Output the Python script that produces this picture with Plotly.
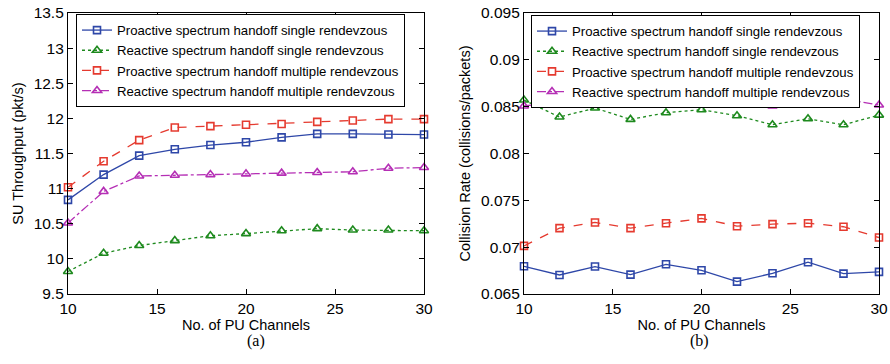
import plotly.graph_objects as go

channels = [10, 12, 14, 16, 18, 20, 22, 24, 26, 28, 30]
series_names = [
    "Proactive spectrum handoff single rendevzous",
    "Reactive spectrum handoff single rendevzous",
    "Proactive spectrum handoff multiple rendevzous",
    "Reactive spectrum handoff multiple rendevzous",
]

# (a) SU throughput (pkt/s)
thr_pro_single = [10.84, 11.20, 11.47, 11.56, 11.62, 11.66, 11.73, 11.78, 11.78, 11.77, 11.77]
thr_re_single = [9.82, 10.08, 10.19, 10.26, 10.33, 10.36, 10.40, 10.43, 10.41, 10.41, 10.40]
thr_pro_multi = [11.02, 11.39, 11.69, 11.87, 11.89, 11.91, 11.92, 11.95, 11.97, 11.99, 11.99]
thr_re_multi = [10.51, 10.96, 11.18, 11.19, 11.20, 11.21, 11.22, 11.23, 11.24, 11.29, 11.30]

# (b) Collision rate (collisions/packets)
col_pro_single = [0.06796, 0.06703, 0.06793, 0.06707, 0.06817, 0.06753, 0.06632, 0.06721, 0.06839, 0.06718, 0.06736]
col_re_single = [0.08571, 0.08389, 0.08485, 0.08364, 0.08435, 0.08467, 0.08403, 0.08307, 0.08371, 0.08307, 0.08410]
col_pro_multi = [0.07014, 0.07203, 0.07264, 0.07203, 0.07256, 0.07307, 0.07224, 0.07246, 0.07256, 0.07218, 0.07103]
col_re_multi = [0.08507, 0.08553, 0.08578, 0.08585, 0.08560, 0.08593, 0.08536, 0.08507, 0.08603, 0.08582, 0.08518]

y1_ticks = [9.5, 10, 10.5, 11, 11.5, 12, 12.5, 13, 13.5]
y1_ticklabels = ["9.5", "10", "10.5", "11", "11.5", "12", "12.5", "13", "13.5"]
y2_ticks = [0.065, 0.07, 0.075, 0.08, 0.085, 0.09, 0.095]
y2_ticklabels = ["0.065", "0.07", "0.075", "0.08", "0.085", "0.09", "0.095"]
x_ticks = [10, 15, 20, 25, 30]

colors = ["#2e47a8", "#1e8a1e", "#e53a2f", "#b52fb5"]
dashes = ["solid", "dot", "dash", "dashdot"]
symbols = ["square-open", "triangle-up-open", "square-open", "triangle-up-open"]
msizes = [7, 8, 7, 8]

FONT = "Liberation Sans, Arial, Helvetica, sans-serif"

fig = go.Figure()

left = [thr_pro_single, thr_re_single, thr_pro_multi, thr_re_multi]
right = [col_pro_single, col_re_single, col_pro_multi, col_re_multi]

for i in range(4):
    fig.add_trace(go.Scatter(
        x=channels, y=left[i], name=series_names[i], mode="lines+markers",
        line=dict(color=colors[i], width=1.3, dash=dashes[i]),
        marker=dict(symbol=symbols[i], size=msizes[i], color=colors[i], line=dict(width=1.6, color=colors[i])),
        cliponaxis=False, xaxis="x", yaxis="y", legend="legend",
    ))
for i in range(4):
    fig.add_trace(go.Scatter(
        x=channels, y=right[i], name=series_names[i], mode="lines+markers",
        line=dict(color=colors[i], width=1.3, dash=dashes[i]),
        marker=dict(symbol=symbols[i], size=msizes[i], color=colors[i], line=dict(width=1.6, color=colors[i])),
        cliponaxis=False, xaxis="x2", yaxis="y2", legend="legend2",
    ))

W, H = 890, 364
def px_x(p):
    return p / W
def px_y(p):
    return 1 - p / H

ydom = [px_y(294), px_y(13)]

axis_common = dict(
    showline=True, linecolor="black", linewidth=1.2, mirror="ticks",
    ticks="inside", ticklen=5, tickcolor="black", tickwidth=1,
    showgrid=False, zeroline=False, automargin=False,
    tickfont=dict(family=FONT, size=15.5, color="black"),
)

fig.update_layout(
    width=W, height=H,
    margin=dict(l=0, r=0, t=0, b=0),
    paper_bgcolor="white", plot_bgcolor="white",
    font=dict(family=FONT, color="black"),
    xaxis=dict(domain=[px_x(68), px_x(424)], range=[10, 30], tickvals=x_ticks,
               title=dict(text="No. of PU Channels", font=dict(family=FONT, size=14.5), standoff=4),
               anchor="y", **axis_common),
    yaxis=dict(domain=ydom, range=[9.5, 13.5], tickvals=y1_ticks, ticktext=y1_ticklabels,
               title=dict(text="SU Throughput (pkt/s)", font=dict(family=FONT, size=14.5), standoff=6),
               anchor="x", **axis_common),
    xaxis2=dict(domain=[px_x(524), px_x(879)], range=[10, 30], tickvals=x_ticks,
                title=dict(text="No. of PU Channels", font=dict(family=FONT, size=14.5), standoff=4),
                anchor="y2", **axis_common),
    yaxis2=dict(domain=ydom, range=[0.065, 0.095], tickvals=y2_ticks, ticktext=y2_ticklabels,
                title=dict(text="Collision Rate (collisions/packets)", font=dict(family=FONT, size=14.5), standoff=6),
                anchor="x2", **axis_common),
    legend=dict(x=px_x(76), y=px_y(14), xanchor="left", yanchor="top",
                bgcolor="white", bordercolor="black", borderwidth=1,
                font=dict(family=FONT, size=13.2), tracegroupgap=0, itemsizing="trace",
                itemwidth=30),
    legend2=dict(x=px_x(531), y=px_y(15), xanchor="left", yanchor="top",
                 bgcolor="white", bordercolor="black", borderwidth=1,
                 font=dict(family=FONT, size=13.2), tracegroupgap=0, itemsizing="trace",
                 itemwidth=30),
    showlegend=True,
    annotations=[
        dict(text="(a)", x=px_x(245), y=px_y(352), xref="paper", yref="paper",
             showarrow=False, font=dict(family="Liberation Serif, Times New Roman, serif", size=16)),
        dict(text="(b)", x=px_x(711), y=px_y(352), xref="paper", yref="paper",
             showarrow=False, font=dict(family="Liberation Serif, Times New Roman, serif", size=16)),
    ],
)

fig.write_html(
    "out.html",
    config={"displayModeBar": False},
    post_script="document.body.style.margin='0';document.body.style.overflow='hidden';",
)
